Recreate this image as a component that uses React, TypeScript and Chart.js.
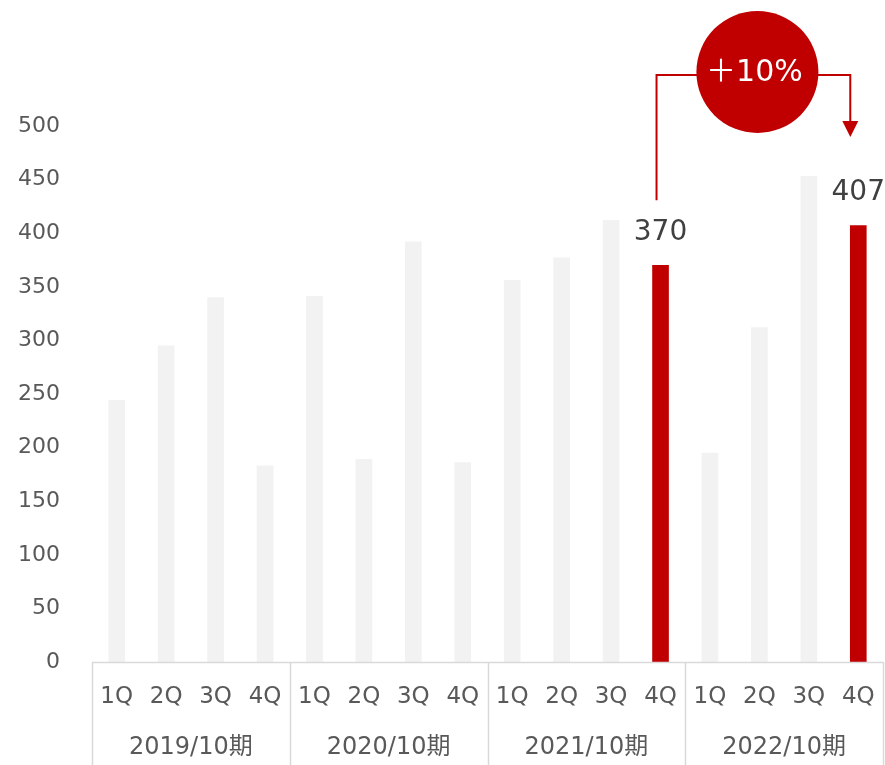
import React, { useEffect, useRef } from "react";
import { Chart, registerables } from "chart.js";

Chart.register(...registerables);

const quarters = ["1Q", "2Q", "3Q", "4Q", "1Q", "2Q", "3Q", "4Q", "1Q", "2Q", "3Q", "4Q", "1Q", "2Q", "3Q", "4Q"];
const periods = ["2019/10期", "2020/10期", "2021/10期", "2022/10期"];
const values = [244, 295, 340, 183, 341, 189, 392, 186, 356, 377, 412, 370, 195, 312, 453, 407];
const highlighted = [false, false, false, false, false, false, false, false, false, false, false, true, false, false, false, true];
const yTicks = [0, 50, 100, 150, 200, 250, 300, 350, 400, 450, 500];
const growthLabel = "＋10%";

const RED = "#c00000";
const GRAY = "#f2f2f2";
const TEXT = "#595959";
const FONT = "'DejaVu Sans', 'Noto Sans CJK JP', sans-serif";

const overlayPlugin = {
  id: "overlay",
  afterDraw(chart: any) {
    const ctx = chart.ctx;
    const area = chart.chartArea;
    const x = chart.scales.x;
    const meta = chart.getDatasetMeta(0);
    ctx.save();

    // two-level category axis
    const groupSize = 4;
    const bounds: number[] = [area.left];
    for (let g = 1; g < periods.length; g++) {
      const i = g * groupSize;
      bounds.push((x.getPixelForValue(i - 1) + x.getPixelForValue(i)) / 2);
    }
    bounds.push(area.right);
    const axisBottom = chart.height;
    ctx.strokeStyle = "#d9d9d9";
    ctx.lineWidth = 1.5;
    ctx.beginPath();
    ctx.moveTo(area.left, area.bottom + 0.5);
    ctx.lineTo(area.right, area.bottom + 0.5);
    for (const b of bounds) {
      ctx.moveTo(Math.round(b) + 0.5, area.bottom);
      ctx.lineTo(Math.round(b) + 0.5, axisBottom);
    }
    ctx.stroke();

    ctx.fillStyle = TEXT;
    ctx.font = `23px ${FONT}`;
    ctx.textAlign = "center";
    ctx.textBaseline = "middle";
    quarters.forEach((q, i) => {
      ctx.fillText(q, x.getPixelForValue(i), area.bottom + 35);
    });
    ctx.font = `24px ${FONT}`;
    periods.forEach((p, g) => {
      ctx.fillText(p, (bounds[g] + bounds[g + 1]) / 2, area.bottom + 86);
    });

    // value labels on highlighted bars
    ctx.fillStyle = "#404040";
    ctx.font = `28px ${FONT}`;
    const hi: number[] = [];
    highlighted.forEach((h, i) => {
      if (!h) return;
      hi.push(i);
      const el = meta.data[i];
      ctx.fillText(String(values[i]), el.x, el.y - 33);
    });

    // growth annotation
    if (hi.length >= 2) {
      const a = meta.data[hi[0]];
      const b = meta.data[hi[1]];
      const lx = a.x - 4;
      const rx = b.x - 8;
      const cx = (a.x + b.x) / 2 - 2;
      const cy = area.top - 54;
      const r = 61;
      const ly = cy + 3;
      ctx.strokeStyle = RED;
      ctx.lineWidth = 2;
      ctx.beginPath();
      ctx.moveTo(lx, a.y - 65);
      ctx.lineTo(lx, ly);
      ctx.lineTo(cx, ly);
      ctx.moveTo(cx, ly);
      ctx.lineTo(rx, ly);
      ctx.lineTo(rx, area.top - 4);
      ctx.stroke();
      ctx.fillStyle = RED;
      ctx.beginPath();
      ctx.moveTo(rx - 8, area.top - 5);
      ctx.lineTo(rx + 8, area.top - 5);
      ctx.lineTo(rx, area.top + 11);
      ctx.closePath();
      ctx.fill();
      ctx.beginPath();
      ctx.arc(cx, cy, r, 0, Math.PI * 2);
      ctx.fill();
      ctx.fillStyle = "#ffffff";
      ctx.font = `30px ${FONT}`;
      ctx.fillText(growthLabel, cx - 3, cy + 1);
    }
    ctx.restore();
  },
};

export default function App() {
  const ref = useRef<HTMLCanvasElement | null>(null);
  useEffect(() => {
    if (!ref.current) return;
    const chart = new Chart(ref.current, {
      type: "bar",
      data: {
        labels: quarters.map((q, i) => `${periods[Math.floor(i / 4)]} ${q}`),
        datasets: [
          {
            data: values,
            backgroundColor: highlighted.map((h) => (h ? RED : GRAY)),
            barThickness: 16,
          },
        ],
      },
      options: {
        responsive: false,
        animation: false,
        layout: { padding: { left: 0, top: 126, right: 2, bottom: 103 } },
        plugins: { legend: { display: false }, tooltip: { enabled: false } },
        scales: {
          x: { display: false },
          y: {
            min: 0,
            max: 500,
            afterBuildTicks: (scale: any) => {
              scale.ticks = yTicks.map((v) => ({ value: v }));
            },
            afterFit: (scale: any) => {
              scale.width = 92;
            },
            grid: { display: false },
            border: { display: false },
            ticks: {
              color: TEXT,
              padding: 24,
              font: { family: FONT, size: 22 },
            },
          },
        },
      },
      plugins: [overlayPlugin],
    });
    return () => chart.destroy();
  }, []);
  return (
    <div style={{ position: "fixed", left: 0, top: 0, width: 885, height: 765, background: "#fff" }}>
      <canvas ref={ref} width={885} height={765} />
    </div>
  );
}
